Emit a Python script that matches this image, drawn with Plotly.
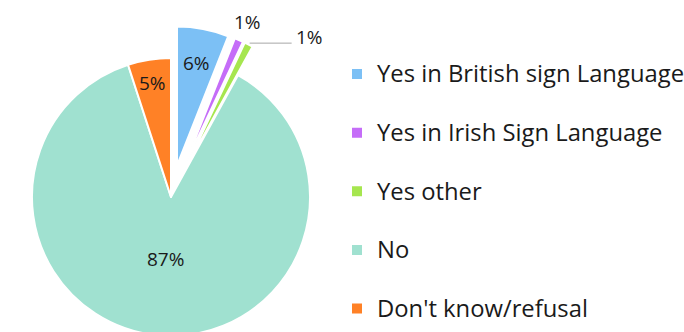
import math
import plotly.graph_objects as go

# Survey answers and their shares (%)
categories = [
    "Yes in British sign Language",
    "Yes in Irish Sign Language",
    "Yes other",
    "No",
    "Don't know/refusal",
]
shares = [6, 1, 1, 87, 5]

slice_colors = ["#7CC0F5", "#C56DF8", "#A6E64F", "#A0E1D0", "#FF8126"]
slice_pull = [0.23, 0.23, 0.23, 0, 0]
# where each percentage sits along its slice's middle ray (fraction of radius);
# None = label placed outside the slice
label_radius = [0.75, None, None, 0.45, 0.83]

W, H = 684, 394
LABEL_FONT = dict(family="Open Sans", size=19, color="#1a1a1a")

# Legend entries: larger text on a taller line so the entries are spread out
legend_labels = [f"<span style='font-size:23.8px'>{c}</span><br> " for c in categories]

fig = go.Figure(
    go.Pie(
        labels=legend_labels,
        values=shares,
        sort=False,
        direction="clockwise",
        rotation=0,
        pull=slice_pull,
        marker=dict(colors=slice_colors, line=dict(color="white", width=2)),
        textinfo="none",
        domain=dict(x=[0, 0.5], y=[0, 1]),
        hovertext=categories,
        hoverinfo="text+percent",
    )
)

# Pie geometry (pixels), matching how the pie trace lays itself out
cx, cy = 0.25 * W, 0.5 * H
radius = min(0.5 * W, H) / 2 / (1 + max(slice_pull))
total = sum(shares)


def px(x, y):
    return x / W, 1 - y / H


annotations = []
shapes = []
cum = 0
for i, (v, p, f) in enumerate(zip(shares, slice_pull, label_radius)):
    mid = (cum + v / 2) / total * 2 * math.pi
    cum += v
    ux, uy = math.sin(mid), -math.cos(mid)
    ox, oy = cx + p * radius * ux, cy + p * radius * uy  # slice origin after pull
    if f is not None:
        x, y = px(ox + f * radius * ux, oy + f * radius * uy)
        annotations.append(dict(
            xref="paper", yref="paper", x=x, y=y, xanchor="center", yanchor="middle",
            text=f"{v}%", showarrow=False, font=LABEL_FONT,
        ))
        continue
    tipx, tipy = ox + radius * ux, oy + radius * uy
    if i == 1:
        # label just above the slice tip
        x, y = px(tipx, tipy)
        annotations.append(dict(
            xref="paper", yref="paper", x=x, y=y, xanchor="center", yanchor="bottom",
            xshift=9, yshift=3, text=f"{v}%", showarrow=False, font=LABEL_FONT,
        ))
    else:
        # label to the right, joined to the slice tip by a leader line
        line_len = 43
        lx0, ly0 = px(tipx + 1, tipy - 1.5)
        lx1, ly1 = px(tipx + line_len, tipy - 1.5)
        shapes.append(dict(type="line", xref="paper", yref="paper",
                           x0=lx0, y0=ly0, x1=lx1, y1=ly1,
                           line=dict(color="#a6a6a6", width=1)))
        tx, ty = px(tipx + line_len + 2, tipy - 1.5)
        annotations.append(dict(
            xref="paper", yref="paper", x=tx, y=ty, xanchor="left", yanchor="middle",
            yshift=6, text=f"{v}%", showarrow=False, font=LABEL_FONT,
        ))

fig.update_layout(
    width=W,
    height=H,
    autosize=False,
    margin=dict(l=0, r=0, t=0, b=0, pad=0, autoexpand=False),
    paper_bgcolor="white",
    showlegend=True,
    legend=dict(
        x=337 / W,
        xanchor="left",
        y=1 - 53.6 / H,
        yanchor="top",
        valign="top",
        font=dict(family="Open Sans", size=21.4, color="#1a1a1a"),
        bgcolor="rgba(0,0,0,0)",
    ),
    annotations=annotations,
    shapes=shapes,
)

fig.write_html(
    "out.html",
    post_script="document.documentElement.style.overflow='hidden';document.body.style.overflow='hidden';",
)
